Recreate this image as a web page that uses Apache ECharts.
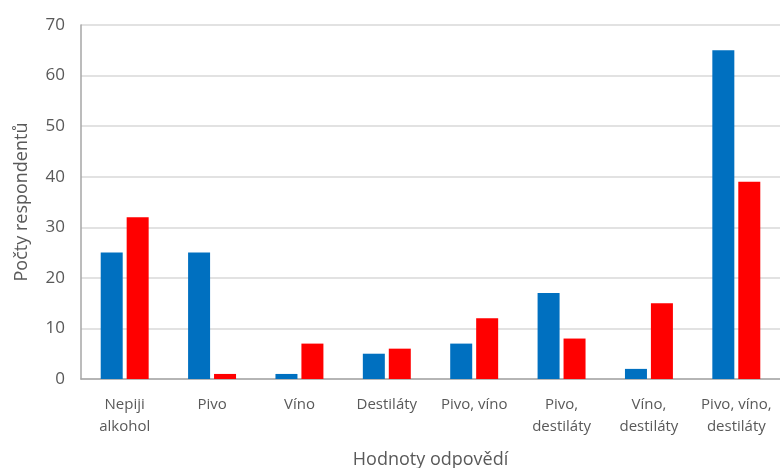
<!DOCTYPE html>
<html>
<head>
<meta charset="utf-8">
<script src="https://cdn.jsdelivr.net/npm/echarts@6/dist/echarts.min.js"></script>
<style>
  html, body { margin: 0; padding: 0; background: #fff; }
  #main { width: 780px; height: 468px; }
</style>
</head>
<body>
<div id="main"></div>
<script>
// data
const categories = ['Nepiji\nalkohol', 'Pivo', 'Víno', 'Destiláty', 'Pivo, víno', 'Pivo,\ndestiláty', 'Víno,\ndestiláty', 'Pivo, víno,\ndestiláty']
const blueValues = [25, 25, 1, 5, 7, 17, 2, 65]
const redValues = [32, 1, 7, 6, 12, 8, 15, 39]

const textColor = '#595959'
const font = 'Open Sans'

const chart = echarts.init(document.getElementById('main'), null, { renderer: 'canvas' })
chart.setOption({
  backgroundColor: '#fff',
  animation: false,
  grid: { left: 81, right: 0, top: 25, bottom: 89, outerBoundsMode: 'none' },
  xAxis: {
    type: 'category',
    data: categories,
    name: 'Hodnoty odpovědí',
    nameLocation: 'center',
    nameGap: 72,
    nameTextStyle: { color: textColor, fontSize: 18, fontFamily: font },
    axisLine: { lineStyle: { color: '#a6a6a6', width: 1.5 } },
    axisTick: { show: false },
    axisLabel: { color: textColor, fontSize: 15, fontFamily: font, lineHeight: 22, margin: 15, interval: 0 }
  },
  yAxis: {
    type: 'value',
    min: 0,
    max: 70,
    interval: 10,
    name: 'Počty respondentů',
    nameLocation: 'center',
    nameGap: 50,
    nameTextStyle: { color: textColor, fontSize: 18, fontFamily: font },
    axisLine: { show: true, lineStyle: { color: '#a6a6a6', width: 1.5 } },
    axisTick: { show: false },
    axisLabel: { color: textColor, fontSize: 17, fontFamily: font, margin: 16 },
    splitLine: { lineStyle: { color: '#d9d9d9', width: 1.5 } }
  },
  series: [
    {
      type: 'bar',
      data: blueValues,
      barWidth: 22,
      barGap: '18%',
      itemStyle: { color: '#0070C0' }
    },
    {
      type: 'bar',
      data: redValues,
      barWidth: 22,
      itemStyle: { color: '#FF0000' }
    }
  ]
})
</script>
</body>
</html>
